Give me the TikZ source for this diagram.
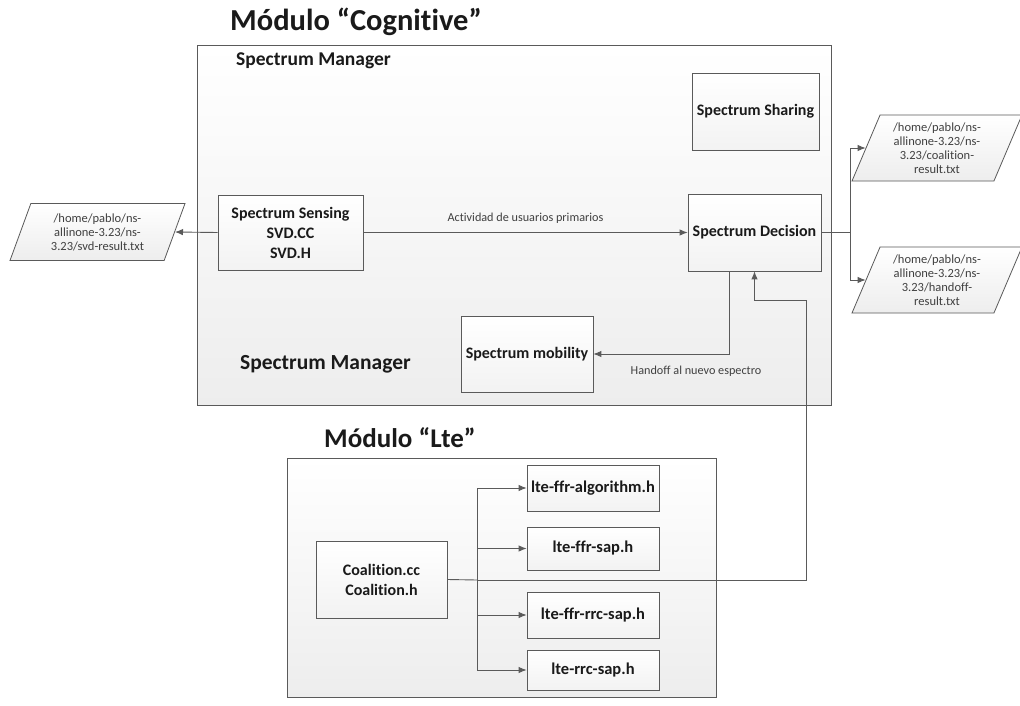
\documentclass[tikz,border=0pt]{standalone}
\usepackage{fontspec}
\setmainfont{Carlito}[Ligatures={NoCommon}]
\usetikzlibrary{arrows.meta,shapes.geometric}

\definecolor{edge}{HTML}{5A5A5A}
\definecolor{txt}{HTML}{1A1A1A}
\definecolor{soft}{HTML}{404040}

\tikzset{
  module/.style={draw=edge, line width=0.9pt, top color=white, bottom color=gray!14,
    minimum width=#1, inner sep=0pt},
  block/.style={draw=edge, line width=0.8pt, top color=white, bottom color=gray!10,
    font=\fontsize{16}{20}\selectfont\bfseries, text=txt, align=center, inner sep=2pt},
  ltebox/.style={block, font=\fontsize{16.5}{20}\selectfont\bfseries,
    minimum width=132, minimum height=44},
  datafile/.style={trapezium, trapezium left angle=62, trapezium right angle=118,
    trapezium stretches body, draw=edge, line width=0.8pt, top color=white, bottom color=gray!14,
    font=\fontsize{12.5}{14}\selectfont, text=soft, align=center, inner sep=1pt},
  conn/.style={draw=edge, line width=0.9pt},
  arr/.style={conn, -{Latex[length=8pt,width=6.5pt]}},
  lbl/.style={font=\fontsize{12.2}{14}\selectfont, text=soft, inner sep=0pt},
  heading/.style={font=\fontsize{30.5}{34}\selectfont\bfseries, text=txt, inner sep=0pt, anchor=base west},
}

\begin{document}
\begin{tikzpicture}[x=1pt,y=-1pt]
\useasboundingbox[fill=white] (0,0) rectangle (1020,706);

% ---- Cognitive module ----
\node[heading] (cogtitle) at (230,31) {Módulo “Cognitive”};
\node[module=634, minimum height=360] (cog) at (514,225) {};
\node[font=\fontsize{19.5}{22}\selectfont\bfseries, text=txt, inner sep=0pt, anchor=base west]
  (smtop) at (236,66) {Spectrum Manager};
\node[font=\fontsize{21.5}{24}\selectfont\bfseries, text=txt, inner sep=0pt, anchor=base west]
  (smbot) at (240,369) {Spectrum Manager};

\node[block, minimum width=127, minimum height=77] (share) at (755.5,111.5) {Spectrum Sharing};
\node[block, minimum width=145, minimum height=75] (sense) at (290.5,232.5)
  {Spectrum Sensing\\SVD.CC\\SVD.H};
\node[block, minimum width=133, minimum height=77] (dec) at (754.5,232.5) {Spectrum Decision};
\node[block, minimum width=132, minimum height=76] (mob) at (527,354) {Spectrum mobility};

% ---- output files ----
\node[datafile, minimum width=175, minimum height=57] (fsvd) at (97.5,232)
  {/home/pablo/ns-\\allinone-3.23/ns-\\3.23/svd-result.txt};
\node[datafile, minimum width=170, minimum height=66] (fcoal) at (937,148)
  {/home/pablo/ns-\\allinone-3.23/ns-\\3.23/coalition-\\result.txt};
\node[datafile, minimum width=170, minimum height=66] (fhand) at (937,280)
  {/home/pablo/ns-\\allinone-3.23/ns-\\3.23/handoff-\\result.txt};

% ---- Lte module ----
\node[heading, font=\fontsize{27}{31}\selectfont\bfseries] (ltetitle) at (324,447) {Módulo “Lte”};
\node[module=429, minimum height=239] (lte) at (501.5,577.5) {};
\node[block, minimum width=131, minimum height=77] (coal) at (381.5,579.5) {Coalition.cc\\Coalition.h};
\node[ltebox, minimum height=46] (algo) at (593,488) {lte-ffr-algorithm.h};
\node[ltebox, minimum height=43] (ffrsap) at (593,548.5) {lte-ffr-sap.h};
\node[ltebox, minimum height=46] (ffrrrc) at (593,615) {lte-ffr-rrc-sap.h};
\node[ltebox, minimum height=40] (rrcsap) at (593,670) {lte-rrc-sap.h};

% ---- connectors ----
\draw[arr] (sense.west) -- (fsvd.east);
\draw[arr] (sense.east) -- node[lbl, above=9pt] {Actividad de usuarios primarios} (dec.west);

\coordinate (split) at (850,232.5);
\draw[conn] (dec.east) -- (split);
\draw[arr] (split) |- (fcoal.west);
\draw[arr] (split) |- (fhand.west);

\coordinate (down) at ([xshift=-25.5]dec.south);
\draw[arr] (down) |- (mob.east);
\node[lbl] (handoff) at (696,371) {Handoff al nuevo espectro};

\coordinate (bus) at (477,580);
\coordinate (rise) at (806,300);
\draw[conn] (coal.east) -- (bus);
\draw[arr] (bus) -| (rise) -| (dec.south);
\draw[arr] (bus) |- (algo.west);
\draw[arr] (bus) |- (ffrsap.west);
\draw[arr] (bus) |- (ffrrrc.west);
\draw[arr] (bus) |- (rrcsap.west);
\end{tikzpicture}
\end{document}
